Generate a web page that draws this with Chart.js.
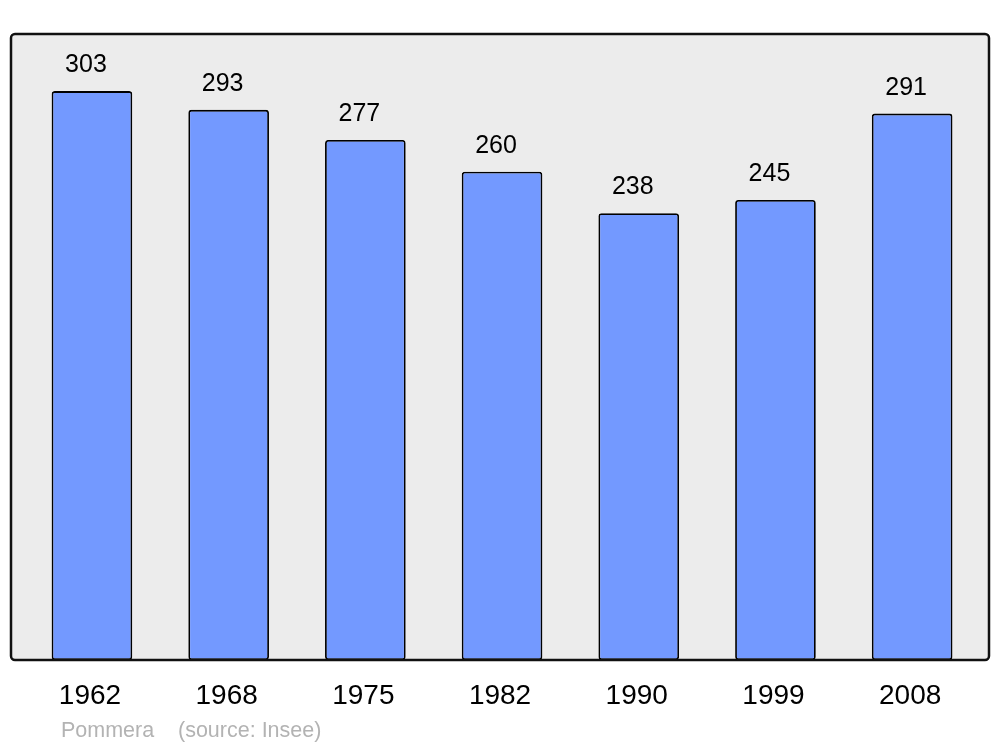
<!DOCTYPE html>
<html>
<head>
<meta charset="utf-8">
<script src="https://cdn.jsdelivr.net/npm/chart.js@4/dist/chart.umd.min.js"></script>
<style>
  html, body { margin: 0; padding: 0; background: #ffffff; }
  canvas { display: block; }
</style>
</head>
<body>
<canvas id="c" width="1000" height="747"></canvas>
<script>
const years = ["1962", "1968", "1975", "1982", "1990", "1999", "2008"];
const population = [303, 293, 277, 260, 238, 245, 291];
const footerName = "Pommera";
const footerSource = "(source: Insee)";

const FONT = "'Liberation Sans', Arial, sans-serif";

const framePlugin = {
  id: 'frame',
  beforeDatasetsDraw(chart) {
    const ctx = chart.ctx;
    ctx.save();
    ctx.beginPath();
    ctx.roundRect(11, 34, 978, 626, 4);
    ctx.fillStyle = '#ececec';
    ctx.fill();
    ctx.restore();
  },
  afterDatasetsDraw(chart) {
    const ctx = chart.ctx;
    ctx.save();
    ctx.beginPath();
    ctx.roundRect(11, 34, 978, 626, 4);
    ctx.lineWidth = 2.5;
    ctx.strokeStyle = '#111111';
    ctx.stroke();
    // value labels
    const meta = chart.getDatasetMeta(0);
    ctx.font = '25px ' + FONT;
    ctx.fillStyle = '#000000';
    ctx.textAlign = 'center';
    ctx.textBaseline = 'alphabetic';
    meta.data.forEach((bar, i) => {
      ctx.fillText(String(population[i]), bar.x - 6, bar.y - 19);
    });
    // footer
    ctx.font = '21.5px ' + FONT;
    ctx.fillStyle = '#b3b3b3';
    ctx.textAlign = 'left';
    ctx.fillText(footerName, 61, 737);
    ctx.fillText(footerSource, 178, 737);
    ctx.restore();
  }
};

new Chart(document.getElementById('c'), {
  type: 'bar',
  data: {
    labels: years,
    datasets: [{
      data: population,
      backgroundColor: '#7399ff',
      borderColor: '#000000',
      borderWidth: 1.8,
      borderRadius: 3,
      borderSkipped: false,
      barPercentage: 0.59,
      categoryPercentage: 1.0
    }]
  },
  options: {
    responsive: false,
    animation: false,
    devicePixelRatio: 1,
    layout: { padding: { left: 23.6, right: 19.5, top: 34, bottom: 0 } },
    plugins: { legend: { display: false }, tooltip: { enabled: false }, title: { display: false } },
    scales: {
      x: {
        grid: { display: false },
        border: { display: false },
        ticks: {
          color: '#000000',
          font: { family: FONT, size: 28 },
          padding: 11,
          labelOffset: -2,
          maxRotation: 0
        },
        afterFit(scale) { scale.height = 87; }
      },
      y: {
        display: false,
        min: 0,
        max: 333.4
      }
    }
  },
  plugins: [framePlugin]
});
</script>
</body>
</html>
